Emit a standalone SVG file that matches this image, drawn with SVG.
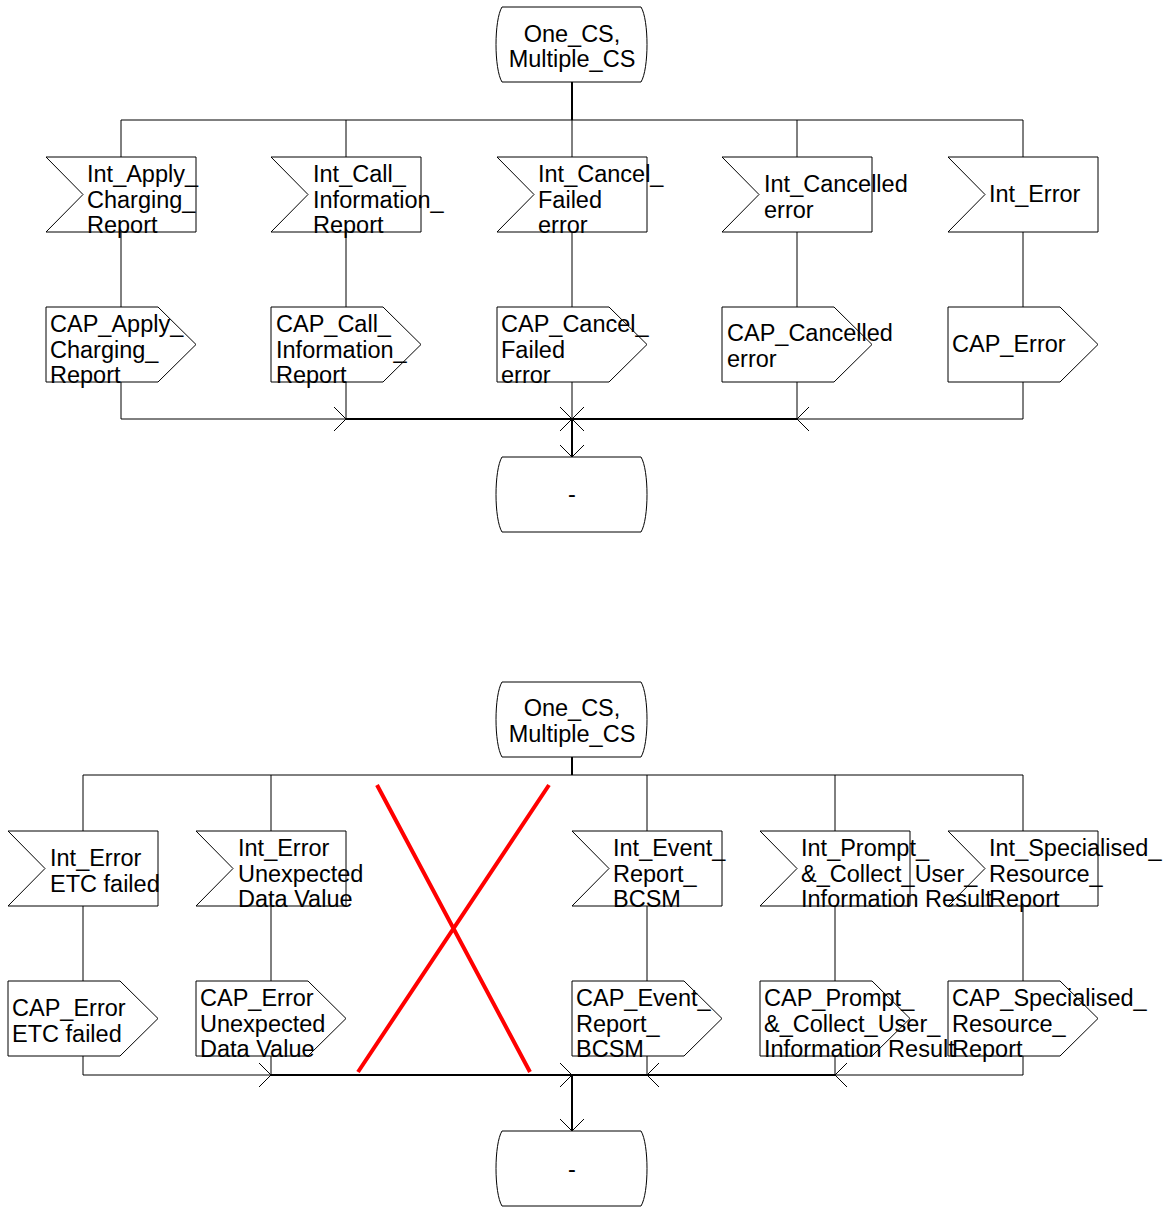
<svg xmlns="http://www.w3.org/2000/svg" xmlns:xlink="http://www.w3.org/1999/xlink" width="1165" height="1207" viewBox="0 0 1165 1207">
  <style>
    .shape { fill: none; stroke: #000; stroke-width: 1; }
    .line { fill: none; stroke: #000; stroke-width: 1; }
    .bold { fill: none; stroke: #000; stroke-width: 2; }
    .cross { fill: none; stroke: #ff0000; stroke-width: 4; }
    text { font-family: "Liberation Sans", Arial, sans-serif; font-size: 23.5px; fill: #000; }
    .mid { text-anchor: middle; }
  </style>
  <defs>
    <!-- open arrowhead, tip at origin, pointing along +x -->
    <path id="ah" d="M-12,-12 L0,0 L-12,12" fill="none" stroke="#000" stroke-width="1"/>
    <!-- SDL state symbol, 150 x 75 -->
    <path id="state" d="M5,0 H144 C152,13 152,62 144,75 H5 C-3,62 -3,13 5,0 Z"/>
    <!-- SDL input symbol, 150 x 75 -->
    <path id="input" d="M0,0 H150 V75 H0 L37,37.5 Z"/>
    <!-- SDL output symbol, 150 x 75 -->
    <path id="output" d="M0,0 H112 L150,37.5 L112,75 H0 Z"/>
  </defs>

  <rect width="1165" height="1207" fill="#fff"/>

  <!-- ===== Upper procedure ===== -->
  <g id="connectors-upper">
    <path class="bold" d="M572,82 V120"/>
    <path class="line" d="M121,120 H1023"/>
    <path class="line" d="M121,120 V157 M346,120 V157 M572,120 V157 M797,120 V157 M1023,120 V157"/>
    <path class="line" d="M121,232 V307 M346,232 V307 M572,232 V307 M797,232 V307 M1023,232 V307"/>
    <path class="line" d="M121,382 V419 H346 M346,382 V419 M572,382 V419 M797,382 V419 M1023,382 V419 H797"/>
    <path class="bold" d="M346,419 H797 M572,419 V457"/>
    <use xlink:href="#ah" transform="translate(346,419)"/>
    <use xlink:href="#ah" transform="translate(572,419)"/>
    <use xlink:href="#ah" transform="translate(797,419) rotate(180)"/>
    <use xlink:href="#ah" transform="translate(572,419) rotate(180)"/>
    <use xlink:href="#ah" transform="translate(572,457) rotate(90)"/>
  </g>

  <g id="state-u1">
    <use xlink:href="#state" class="shape" x="497" y="7"/>
    <text class="mid" x="572" y="42">One_CS,</text>
    <text class="mid" x="572" y="67">Multiple_CS</text>
  </g>

  <g id="in-u1">
    <use xlink:href="#input" class="shape" x="46" y="157"/>
    <text x="87" y="182">Int_Apply_<tspan x="87" dy="25.5">Charging_</tspan><tspan x="87" dy="25.5">Report</tspan></text>
  </g>
  <g id="in-u2">
    <use xlink:href="#input" class="shape" x="271" y="157"/>
    <text x="313" y="182">Int_Call_<tspan x="313" dy="25.5">Information_</tspan><tspan x="313" dy="25.5">Report</tspan></text>
  </g>
  <g id="in-u3">
    <use xlink:href="#input" class="shape" x="497" y="157"/>
    <text x="538" y="182">Int_Cancel_<tspan x="538" dy="25.5">Failed</tspan><tspan x="538" dy="25.5">error</tspan></text>
  </g>
  <g id="in-u4">
    <use xlink:href="#input" class="shape" x="722" y="157"/>
    <text x="764" y="192">Int_Cancelled<tspan x="764" dy="25.5">error</tspan></text>
  </g>
  <g id="in-u5">
    <use xlink:href="#input" class="shape" x="948" y="157"/>
    <text x="989" y="202">Int_Error</text>
  </g>

  <g id="out-u1">
    <use xlink:href="#output" class="shape" x="46" y="307"/>
    <text x="50" y="332">CAP_Apply_<tspan x="50" dy="25.5">Charging_</tspan><tspan x="50" dy="25.5">Report</tspan></text>
  </g>
  <g id="out-u2">
    <use xlink:href="#output" class="shape" x="271" y="307"/>
    <text x="276" y="332">CAP_Call_<tspan x="276" dy="25.5">Information_</tspan><tspan x="276" dy="25.5">Report</tspan></text>
  </g>
  <g id="out-u3">
    <use xlink:href="#output" class="shape" x="497" y="307"/>
    <text x="501" y="332">CAP_Cancel_<tspan x="501" dy="25.5">Failed</tspan><tspan x="501" dy="25.5">error</tspan></text>
  </g>
  <g id="out-u4">
    <use xlink:href="#output" class="shape" x="722" y="307"/>
    <text x="727" y="341">CAP_Cancelled<tspan x="727" dy="25.5">error</tspan></text>
  </g>
  <g id="out-u5">
    <use xlink:href="#output" class="shape" x="948" y="307"/>
    <text x="952" y="352">CAP_Error</text>
  </g>

  <g id="state-u2">
    <use xlink:href="#state" class="shape" x="497" y="457"/>
    <text class="mid" x="572" y="502">-</text>
  </g>

  <!-- ===== Lower procedure ===== -->
  <g id="connectors-lower">
    <path class="bold" d="M572,757 V775"/>
    <path class="line" d="M83,775 H1023"/>
    <path class="line" d="M83,775 V831 M271,775 V831 M647,775 V831 M835,775 V831 M1023,775 V831"/>
    <path class="line" d="M83,906 V981 M271,906 V981 M647,906 V981 M835,906 V981 M1023,906 V981"/>
    <path class="line" d="M83,1056 V1075 H271 M271,1056 V1075 M647,1056 V1075 M835,1056 V1075 M1023,1056 V1075 H835"/>
    <path class="bold" d="M271,1075 H835 M572,1075 V1131"/>
    <use xlink:href="#ah" transform="translate(271,1075)"/>
    <use xlink:href="#ah" transform="translate(572,1075)"/>
    <use xlink:href="#ah" transform="translate(835,1075) rotate(180)"/>
    <use xlink:href="#ah" transform="translate(647,1075) rotate(180)"/>
    <use xlink:href="#ah" transform="translate(572,1131) rotate(90)"/>
  </g>

  <g id="state-l1">
    <use xlink:href="#state" class="shape" x="497" y="682"/>
    <text class="mid" x="572" y="716">One_CS,</text>
    <text class="mid" x="572" y="742">Multiple_CS</text>
  </g>

  <g id="in-l1">
    <use xlink:href="#input" class="shape" x="8" y="831"/>
    <text x="50" y="866">Int_Error<tspan x="50" dy="25.5">ETC failed</tspan></text>
  </g>
  <g id="in-l2">
    <use xlink:href="#input" class="shape" x="196" y="831"/>
    <text x="238" y="856">Int_Error<tspan x="238" dy="25.5">Unexpected</tspan><tspan x="238" dy="25.5">Data Value</tspan></text>
  </g>
  <g id="in-l3">
    <use xlink:href="#input" class="shape" x="572" y="831"/>
    <text x="613" y="856">Int_Event_<tspan x="613" dy="25.5">Report_</tspan><tspan x="613" dy="25.5">BCSM</tspan></text>
  </g>
  <g id="in-l4">
    <use xlink:href="#input" class="shape" x="760" y="831"/>
    <text x="801" y="856">Int_Prompt_<tspan x="801" dy="25.5">&amp;_Collect_User_</tspan><tspan x="801" dy="25.5">Information Result</tspan></text>
  </g>
  <g id="in-l5">
    <use xlink:href="#input" class="shape" x="948" y="831"/>
    <text x="989" y="856">Int_Specialised_<tspan x="989" dy="25.5">Resource_</tspan><tspan x="989" dy="25.5">Report</tspan></text>
  </g>

  <g id="out-l1">
    <use xlink:href="#output" class="shape" x="8" y="981"/>
    <text x="12" y="1016">CAP_Error<tspan x="12" dy="25.5">ETC failed</tspan></text>
  </g>
  <g id="out-l2">
    <use xlink:href="#output" class="shape" x="196" y="981"/>
    <text x="200" y="1006">CAP_Error<tspan x="200" dy="25.5">Unexpected</tspan><tspan x="200" dy="25.5">Data Value</tspan></text>
  </g>
  <g id="out-l3">
    <use xlink:href="#output" class="shape" x="572" y="981"/>
    <text x="576" y="1006">CAP_Event_<tspan x="576" dy="25.5">Report_</tspan><tspan x="576" dy="25.5">BCSM</tspan></text>
  </g>
  <g id="out-l4">
    <use xlink:href="#output" class="shape" x="760" y="981"/>
    <text x="764" y="1006">CAP_Prompt_<tspan x="764" dy="25.5">&amp;_Collect_User_</tspan><tspan x="764" dy="25.5">Information Result</tspan></text>
  </g>
  <g id="out-l5">
    <use xlink:href="#output" class="shape" x="948" y="981"/>
    <text x="952" y="1006">CAP_Specialised_<tspan x="952" dy="25.5">Resource_</tspan><tspan x="952" dy="25.5">Report</tspan></text>
  </g>

  <g id="state-l2">
    <use xlink:href="#state" class="shape" x="497" y="1131"/>
    <text class="mid" x="572" y="1177">-</text>
  </g>

  <!-- crossed-out branch -->
  <g id="strike">
    <path class="cross" d="M377,785 L530,1072 M549,785 L358,1072"/>
  </g>
</svg>
